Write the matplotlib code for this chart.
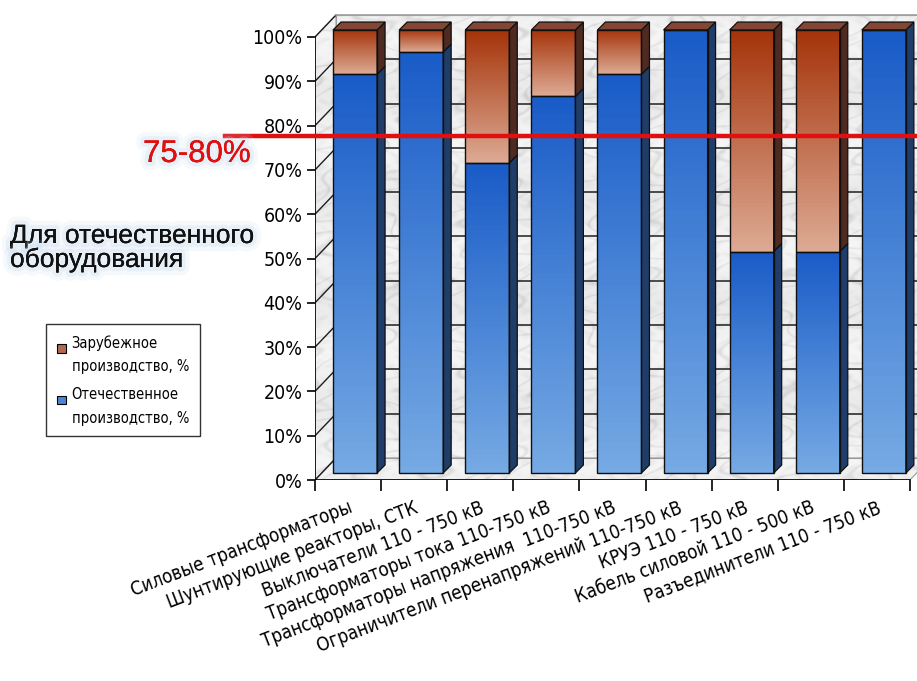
import matplotlib.pyplot as plt
import numpy as np
from matplotlib.patches import Polygon, Patch, Rectangle
from matplotlib.lines import Line2D
from matplotlib.legend_handler import HandlerPatch
import matplotlib.patheffects as pe

# Данные
categories = [
    "Силовые трансформаторы",
    "Шунтирующие реакторы, СТК",
    "Выключатели 110 - 750 кВ",
    "Трансформаторы тока 110-750 кВ",
    "Трансформаторы напряжения  110-750 кВ",
    "Ограничители перенапряжений 110-750 кВ",
    "КРУЭ 110 - 750 кВ",
    "Кабель силовой 110 - 500 кВ",
    "Разъединители 110 - 750 кВ",
]
domestic = [90, 95, 70, 85, 90, 100, 50, 50, 100]
foreign = [10, 5, 30, 15, 10, 0, 50, 50, 0]
y_ticks = [0, 10, 20, 30, 40, 50, 60, 70, 80, 90, 100]
threshold = 77.7

plt.rcParams['font.family'] = ['DejaVu Sans']
plt.rcParams['font.stretch'] = 'condensed'

fig = plt.figure(figsize=(9.17, 6.81), dpi=100)
ax = fig.add_axes([315 / 917, 1 - 480 / 681, 602 / 917, 470 / 681])
xmin, xmax = -0.5, 8.5
ax.set_xlim(xmin, xmin + 602 / 66.1)
ax.set_ylim(0, 470 / 4.43)
for s in ax.spines.values():
    s.set_visible(False)

# 3D offsets (data units)
fdx, fdy = 0.106, 1.58    # front face of bars
ddx, ddy = 0.121, 1.8     # bar depth
wdx, wdy = 0.318, 4.97    # back wall

# marble texture for walls
gx, gy = np.meshgrid(np.linspace(0, 40, 600), np.linspace(0, 40, 600))
veins = np.sin(gx * 1.1 + 2.2 * np.sin(gy * 0.8 + 1.3 * np.sin(gx * 0.5)) + 1.4 * np.sin(gx * 0.6 + gy * 1.9))
spots = np.sin(gx * 2.3 + 1.7 * np.sin(gy * 2.9)) * np.sin(gy * 1.7 + 1.1 * np.sin(gx * 3.1))
marble = 0.94 - 0.08 * np.exp(-(veins ** 2) / 0.05) - 0.04 * spots ** 2 + 0.02 * np.sin(gy * 0.7)
walls = [
    [(xmin + wdx, wdy), (xmax + wdx, wdy), (xmax + wdx, 100 + wdy), (xmin + wdx, 100 + wdy)],
    [(xmin, 0), (xmin + wdx, wdy), (xmin + wdx, 100 + wdy), (xmin, 100)],
    [(xmin, 0), (xmax, 0), (xmax + wdx, wdy), (xmin + wdx, wdy)],
]
for w in walls:
    poly = Polygon(w, closed=True, facecolor='none', edgecolor='#9a9a9a', lw=0.8, zorder=1)
    ax.add_patch(poly)
    im = ax.imshow(marble, cmap='gray', vmin=0, vmax=1, extent=[xmin, xmax + wdx, 0, 100 + wdy],
                   aspect='auto', zorder=0, interpolation='bilinear')
    im.set_clip_path(poly)

# gridlines on the walls
for v in y_ticks[1:-1]:
    ax.plot([xmin + wdx, xmax + wdx], [v + wdy, v + wdy], color='#1e1e1e', lw=1.1, zorder=1.5)
for v in y_ticks:
    ax.plot([xmin, xmin + wdx], [v, v + wdy], color='#1e1e1e', lw=1.0, zorder=1.5)
ax.plot([xmin + wdx, xmax + wdx], [100 + wdy, 100 + wdy], color='#a0a0a0', lw=1.2, zorder=1.5)

# axes lines
ax.plot([xmin, xmin], [0, 100], color='black', lw=1.2, zorder=2)
ax.plot([xmin, xmax], [0, 0], color='black', lw=1.2, zorder=2)

x = np.arange(len(categories))
bw = 0.666
blue_grad = ['#1a5cc8', '#76aae4']
brown_grad = ['#a5340a', '#ddaa94']


def vgrad(c_top, c_bot):
    top = np.array(plt.matplotlib.colors.to_rgb(c_top))
    bot = np.array(plt.matplotlib.colors.to_rgb(c_bot))
    t = np.linspace(0, 1, 64)[:, None]
    return (top * (1 - t) + bot * t)[:, None, :]


bars_dom = ax.bar(x + fdx, domestic, width=bw, bottom=fdy, facecolor='none',
                  edgecolor='#101010', lw=1.0, zorder=4)
bars_for = ax.bar(x + fdx, foreign, width=bw, bottom=np.array(domestic) + fdy,
                  facecolor='none', edgecolor='#101010', lw=1.0, zorder=4)

for bars, grad, side in [(bars_dom, blue_grad, '#1f3d68'), (bars_for, brown_grad, '#4e2a20')]:
    for r in bars:
        x0, y0, w, h = r.get_x(), r.get_y(), r.get_width(), r.get_height()
        if h <= 0:
            continue
        im = ax.imshow(vgrad(*grad), extent=[x0, x0 + w, y0, y0 + h], aspect='auto', zorder=3)
        im.set_clip_path(r)
        xr = x0 + w
        ax.add_patch(Polygon([(xr, y0), (xr + ddx, y0 + ddy), (xr + ddx, y0 + h + ddy), (xr, y0 + h)],
                             closed=True, facecolor=side, edgecolor='#101010', lw=0.9, zorder=3.5))

# top faces
for r in bars_for:
    x0, w = r.get_x(), r.get_width()
    top = r.get_y() + r.get_height()
    ax.add_patch(Polygon([(x0, top), (x0 + w, top), (x0 + w + ddx, top + ddy), (x0 + ddx, top + ddy)],
                         closed=True, facecolor='#844634', edgecolor='#101010', lw=0.9, zorder=3.6))

# ticks
ax.set_yticks(y_ticks, [f"{v}%" for v in y_ticks])
ax.tick_params(axis='y', length=6, width=1.2, pad=3, labelsize=14, colors='black')
ax.set_xticks(np.arange(xmin, xmax + 0.01, 1.0), [])
ax.tick_params(axis='x', which='major', length=8, width=1.2, direction='out')
ax.set_xticks(x, categories, minor=True)
ax.tick_params(axis='x', which='minor', length=0, pad=13, labelsize=13.5)
for lbl in ax.get_xticklabels(minor=True):
    lbl.set_rotation(21)
    lbl.set_ha('right')
    lbl.set_va('top')
    lbl.set_rotation_mode('anchor')

# threshold line
ax.add_line(Line2D([-1.86, ax.get_xlim()[1]], [threshold, threshold], color='#e01010',
                   lw=3.2, zorder=6, clip_on=False))

halo = [pe.withStroke(linewidth=12, foreground='#c8dcf0', alpha=0.15),
        pe.withStroke(linewidth=6, foreground='#bcd2ec', alpha=0.25), pe.Normal()]
big = dict(family=['Liberation Sans', 'DejaVu Sans'], stretch='normal', va='baseline', path_effects=halo)
fig.text(143 / 917, 1 - 162 / 681, "75-80%", color='#e01010', fontsize=22.5, **big)
fig.text(10 / 917, 1 - 243 / 681, "Для отечественного", color='#111111', fontsize=19, **big)
fig.text(10 / 917, 1 - 267 / 681, "оборудования", color='#111111', fontsize=19, **big)


def top_square(legend, orig_handle, xdescent, ydescent, width, height, fontsize):
    s = 0.6 * fontsize
    return Rectangle((-xdescent, -ydescent + height - s - 1), s, s)


handles = [Patch(facecolor='#b06a50', edgecolor='black', lw=0.8),
           Patch(facecolor='#4a86d8', edgecolor='black', lw=0.8)]
leg = fig.legend(handles, ["Зарубежное\nпроизводство, %", "Отечественное\nпроизводство, %"],
                 loc='upper left', bbox_to_anchor=(46 / 917, 1 - 324 / 681), borderaxespad=0,
                 fontsize=10.5, frameon=True, fancybox=False, edgecolor='black', handlelength=0.7,
                 handleheight=2.5, handletextpad=0.3, borderpad=0.75, labelspacing=0.9,
                 handler_map={Patch: HandlerPatch(patch_func=top_square)})
leg.get_frame().set_linewidth(1.0)
for t in leg.get_texts():
    t.set_linespacing(1.7)

fig.savefig('out.png', dpi=100)
